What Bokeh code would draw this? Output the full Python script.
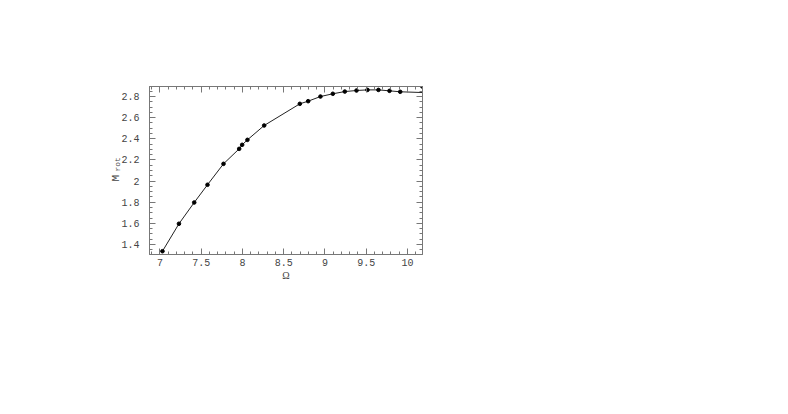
from bokeh.plotting import figure
from bokeh.models import FixedTicker, LinearAxis, Range1d, Title
from bokeh.embed import file_html
from bokeh.resources import INLINE

# data points (Omega, M_rot)
omega = [7.03, 7.23, 7.415, 7.576, 7.77, 7.96, 7.996, 8.06, 8.263, 8.695, 8.796,
         8.945, 9.095, 9.24, 9.382, 9.515, 9.648, 9.782, 9.912, 10.18]
m_rot = [1.336, 1.596, 1.797, 1.965, 2.163, 2.305, 2.343, 2.390, 2.526, 2.731, 2.756,
         2.800, 2.826, 2.847, 2.857, 2.863, 2.863, 2.854, 2.845, 2.895]

# fitted curve
curve_x = [7.03, 7.23, 7.415, 7.576, 7.77, 7.96, 7.996, 8.06, 8.263, 8.695, 8.796,
           8.945, 9.095, 9.24, 9.382, 9.515, 9.648, 9.782, 9.912, 10.18]
curve_y = [1.336, 1.596, 1.797, 1.965, 2.163, 2.305, 2.343, 2.390, 2.526, 2.731, 2.756,
           2.800, 2.826, 2.847, 2.857, 2.863, 2.863, 2.854, 2.845, 2.838]

x_ticks = [7, 7.5, 8, 8.5, 9, 9.5, 10]
x_tick_labels = ["7", "7.5", "8", "8.5", "9", "9.5", "10"]
y_ticks = [1.4, 1.6, 1.8, 2.0, 2.2, 2.4, 2.6, 2.8]
y_tick_labels = ["1.4", "1.6", "1.8", "2", "2.2", "2.4", "2.6", "2.8"]

x_minor = [round(6.9 + 0.1 * i, 3) for i in range(33)]
y_minor = [round(1.35 + 0.05 * i, 3) for i in range(31)]

FONT = "Liberation Mono"
FRAME = "#777777"
TXT = "#444444"

W, H = 772, 398
p = figure(width=W, height=H, x_range=Range1d(6.873, 10.182), y_range=Range1d(1.305, 2.895),
           output_backend="svg", toolbar_location=None,
           min_border_left=149, min_border_right=350, min_border_top=86, min_border_bottom=144,
           x_axis_location=None, y_axis_location=None)
p.grid.visible = False
p.outline_line_color = FRAME
p.background_fill_color = "white"
p.border_fill_color = "white"


def make_axis(ticks, minor, labels, show_labels):
    ax = LinearAxis(ticker=FixedTicker(ticks=ticks, minor_ticks=minor))
    ax.major_label_overrides = {t: l for t, l in zip(ticks, labels)}
    ax.axis_line_color = FRAME
    ax.major_tick_line_color = FRAME
    ax.minor_tick_line_color = FRAME
    ax.major_tick_in = 6
    ax.major_tick_out = 0
    ax.minor_tick_in = 3
    ax.minor_tick_out = 0
    ax.major_label_text_font = FONT
    ax.major_label_text_font_size = "10px"
    ax.major_label_text_color = TXT if show_labels else None
    return ax

bx = make_axis(x_ticks, x_minor, x_tick_labels, True)
bx.major_label_standoff = 4
bx.axis_label = "\u03a9"
bx.axis_label_text_font = "Liberation Serif"
bx.axis_label_text_font_style = "normal"
bx.axis_label_text_font_size = "10px"
bx.axis_label_text_color = TXT
bx.axis_label_standoff = 1
p.add_layout(bx, "below")
ly = make_axis(y_ticks, y_minor, y_tick_labels, True)
ly.major_label_standoff = 10
p.add_layout(ly, "left")
p.add_layout(make_axis(x_ticks, x_minor, x_tick_labels, False), "above")
p.add_layout(make_axis(y_ticks, y_minor, y_tick_labels, False), "right")

# y-axis label "M" with subscript "rot", read bottom to top
t_rot = Title(text="rot", align="left", vertical_align="bottom", offset=83, standoff=-7,
              text_font=FONT, text_font_size="8px", text_font_style="normal", text_color=TXT)
t_m = Title(text="M", align="left", vertical_align="bottom", offset=73, standoff=-14,
            text_font=FONT, text_font_size="11px", text_font_style="normal", text_color=TXT)
p.add_layout(t_rot, "left")
p.add_layout(t_m, "left")

p.line(curve_x, curve_y, line_color="#222222", line_width=1)
p.scatter(omega, m_rot, size=3.6, fill_color="black", line_color="black")

open("out.html", "w").write(file_html(p, INLINE))
